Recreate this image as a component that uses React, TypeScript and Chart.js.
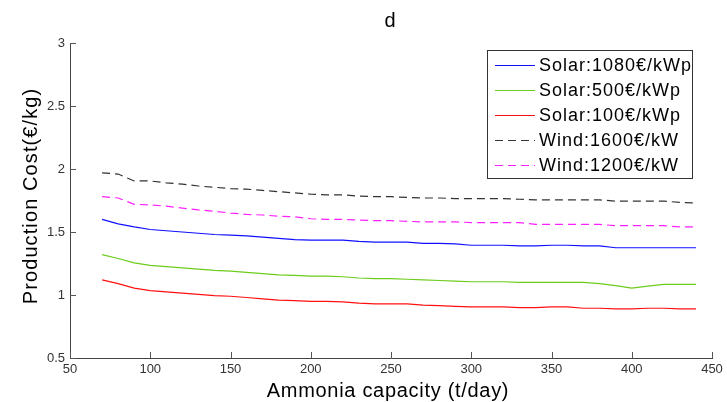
import React, { useEffect, useRef } from "react";
import { Chart, registerables } from "chart.js";

Chart.register(...registerables);

const capacity = [70, 80, 90, 100, 110, 120, 130, 140, 150, 160, 170, 180, 190, 200, 210, 220, 230, 240, 250, 260, 270, 280, 290, 300, 310, 320, 330, 340, 350, 360, 370, 380, 390, 400, 410, 420, 430, 440];

const solar1080 = [1.60, 1.565, 1.54, 1.52, 1.51, 1.50, 1.49, 1.48, 1.475, 1.47, 1.46, 1.45, 1.44, 1.435, 1.435, 1.435, 1.425, 1.42, 1.42, 1.42, 1.41, 1.41, 1.405, 1.395, 1.395, 1.395, 1.39, 1.39, 1.395, 1.395, 1.39, 1.39, 1.375, 1.375, 1.375, 1.375, 1.375, 1.375];
const solar500 = [1.32, 1.29, 1.255, 1.235, 1.225, 1.215, 1.205, 1.195, 1.19, 1.18, 1.17, 1.16, 1.155, 1.15, 1.15, 1.145, 1.135, 1.13, 1.13, 1.125, 1.12, 1.115, 1.11, 1.105, 1.105, 1.105, 1.10, 1.10, 1.10, 1.10, 1.10, 1.09, 1.075, 1.055, 1.07, 1.085, 1.085, 1.085];
const solar100 = [1.12, 1.09, 1.055, 1.035, 1.025, 1.015, 1.005, 0.995, 0.99, 0.98, 0.97, 0.96, 0.955, 0.95, 0.95, 0.945, 0.935, 0.93, 0.93, 0.93, 0.92, 0.915, 0.91, 0.905, 0.905, 0.905, 0.90, 0.90, 0.905, 0.905, 0.895, 0.895, 0.89, 0.89, 0.895, 0.895, 0.89, 0.89];
const wind1600 = [1.97, 1.96, 1.905, 1.905, 1.89, 1.88, 1.865, 1.855, 1.845, 1.84, 1.83, 1.82, 1.81, 1.80, 1.795, 1.795, 1.785, 1.78, 1.78, 1.775, 1.77, 1.77, 1.765, 1.765, 1.765, 1.765, 1.76, 1.755, 1.755, 1.755, 1.755, 1.755, 1.745, 1.745, 1.745, 1.745, 1.735, 1.73];
const wind1200 = [1.78, 1.77, 1.72, 1.715, 1.705, 1.69, 1.675, 1.665, 1.65, 1.64, 1.635, 1.625, 1.62, 1.605, 1.60, 1.60, 1.595, 1.59, 1.59, 1.585, 1.58, 1.58, 1.58, 1.575, 1.575, 1.575, 1.575, 1.56, 1.56, 1.56, 1.56, 1.56, 1.55, 1.55, 1.55, 1.55, 1.54, 1.54];

const seriesLabels = ["Solar:1080€/kWp", "Solar:500€/kWp", "Solar:100€/kWp", "Wind:1600€/kW", "Wind:1200€/kW"];
const seriesColors = ["#1010ff", "#6ccc1c", "#ff1010", "#333333", "#ff20ff"];
const seriesDashed = [false, false, false, true, true];
const seriesValues = [solar1080, solar500, solar100, wind1600, wind1200];

const titleText = "d";
const xTitle = "Ammonia capacity (t/day)";
const yTitle = "Production Cost(€/kg)";

const FONT = "'Liberation Sans', Arial, Helvetica, sans-serif";
const DASH = [8, 5];

const overlayPlugin = {
  id: "overlay",
  afterDraw(chart: any) {
    const ctx = chart.ctx;
    const area = chart.chartArea;
    const xs = chart.scales.x;
    const ys = chart.scales.y;
    ctx.save();
    // inward tick marks
    ctx.strokeStyle = "#555555";
    ctx.lineWidth = 1;
    ctx.beginPath();
    xs.ticks.forEach((t: any) => {
      const px = Math.round(xs.getPixelForValue(t.value)) + 0.5;
      ctx.moveTo(px, area.bottom);
      ctx.lineTo(px, area.bottom - 6);
    });
    ys.ticks.forEach((t: any) => {
      const py = Math.round(ys.getPixelForValue(t.value)) + 0.5;
      ctx.moveTo(area.left, py);
      ctx.lineTo(area.left + 6, py);
    });
    ctx.stroke();

    // title
    ctx.fillStyle = "#000";
    ctx.font = `20px ${FONT}`;
    ctx.textAlign = "center";
    ctx.textBaseline = "alphabetic";
    ctx.fillText(titleText, 390, 27);

    // x title
    (ctx as any).letterSpacing = "0.7px";
    ctx.fillText(xTitle, 388, 397);

    // y title
    ctx.save();
    (ctx as any).letterSpacing = "1.1px";
    ctx.translate(37, 196);
    ctx.rotate(-Math.PI / 2);
    ctx.fillText(yTitle, 0, 0);
    ctx.restore();

    // legend
    const lx = area.right - 225;
    const ly = area.top + 6.5;
    const lw = 205;
    const lh = 128;
    ctx.fillStyle = "#fff";
    ctx.fillRect(Math.round(lx) + 0.5, Math.round(ly) + 0.5, lw, lh);
    ctx.strokeStyle = "#333";
    ctx.lineWidth = 1;
    ctx.strokeRect(Math.round(lx) + 0.5, Math.round(ly) + 0.5, lw, lh);
    (ctx as any).letterSpacing = "1px";
    ctx.font = `18px ${FONT}`;
    ctx.textAlign = "left";
    ctx.textBaseline = "middle";
    chart.data.datasets.forEach((ds: any, i: number) => {
      const cy = Math.round(ly + 15 + i * 25) + 0.5;
      ctx.strokeStyle = ds.borderColor;
      ctx.setLineDash(ds.borderDash || []);
      ctx.beginPath();
      ctx.moveTo(lx + 8, cy);
      ctx.lineTo(lx + 48, cy);
      ctx.stroke();
      ctx.setLineDash([]);
      ctx.fillStyle = "#000";
      ctx.fillText(ds.label, lx + 52, cy + 1);
    });
    ctx.restore();
  },
};

export default function App() {
  const ref = useRef<HTMLCanvasElement | null>(null);
  useEffect(() => {
    if (!ref.current) return;
    const datasets = seriesLabels.map((label, i) => ({
      label,
      data: capacity.map((c, j) => ({ x: c, y: seriesValues[i][j] })),
      borderColor: seriesColors[i],
      backgroundColor: seriesColors[i],
      borderWidth: 1.2,
      borderDash: seriesDashed[i] ? DASH : [],
      pointRadius: 0,
      tension: 0,
      fill: false,
    }));
    const chart = new Chart(ref.current, {
      type: "line",
      data: { datasets },
      options: {
        animation: false,
        responsive: false,
        layout: { padding: { top: 43, right: 15, left: 0, bottom: 0 } },
        plugins: { legend: { display: false }, title: { display: false }, tooltip: { enabled: false } },
        scales: {
          x: {
            type: "linear",
            min: 50,
            max: 450,
            afterFit: (s: any) => { s.height = 44; },
            ticks: { stepSize: 50, autoSkip: false, maxRotation: 0, padding: 4, color: "#333", font: { size: 13, family: FONT } },
            grid: { display: true, drawOnChartArea: false, drawTicks: false },
            border: { display: true, color: "#444", width: 1 },
          },
          y: {
            type: "linear",
            min: 0.5,
            max: 3,
            afterFit: (s: any) => { s.width = 70; },
            ticks: {
              stepSize: 0.5,
              autoSkip: false,
              padding: 5,
              color: "#333",
              font: { size: 13, family: FONT },
              callback: (v: any) => String(Math.round(Number(v) * 10) / 10),
            },
            grid: { display: true, drawOnChartArea: false, drawTicks: false },
            border: { display: true, color: "#444", width: 1 },
          },
        },
      },
      plugins: [overlayPlugin],
    } as any);
    return () => chart.destroy();
  }, []);
  return (
    <div style={{ position: "absolute", left: 0, top: 0, width: 727, height: 402, background: "#fff" }}>
      <canvas ref={ref} width={727} height={402} style={{ width: 727, height: 402, display: "block" }} />
    </div>
  );
}
